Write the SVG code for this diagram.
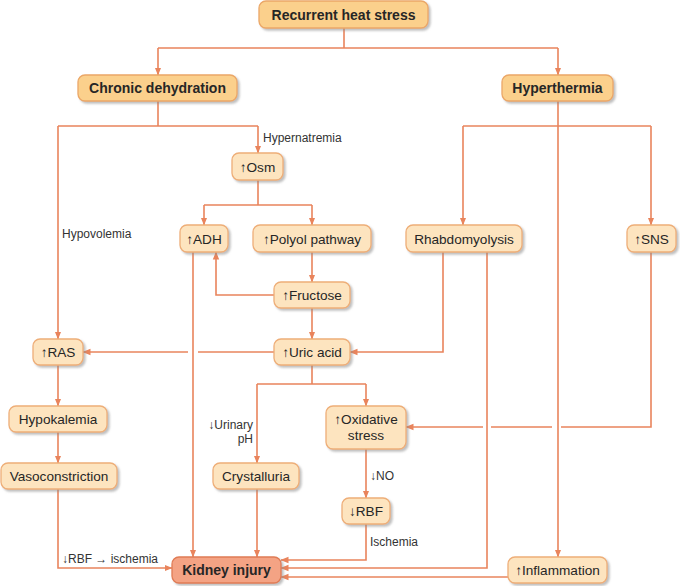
<svg xmlns="http://www.w3.org/2000/svg" width="680" height="586" viewBox="0 0 680 586">
<defs>
<filter id="sh" x="-10%" y="-20%" width="130%" height="160%">
<feDropShadow dx="2" dy="2" stdDeviation="1.2" flood-color="#8a8a8a" flood-opacity="0.55"/>
</filter>
<marker id="ah" markerUnits="userSpaceOnUse" markerWidth="8" markerHeight="8" viewBox="0 0 8 8" refX="7.5" refY="4" orient="auto">
<path d="M0,0.8 L8,4 L0,7.2 Z" fill="#e9845c"/>
</marker>
</defs>
<style>
.n rect{fill:#fde4bf;stroke:#eeae78;stroke-width:1.3;filter:url(#sh)}
.b rect{fill:#fbd08c;stroke:#eba767}
.k rect{fill:#f4a384;stroke:#e07c55}
text{font-family:"Liberation Sans",Arial,sans-serif;fill:#262626}
.n text{font-size:13.6px;text-anchor:middle}
.b text,.k text{font-size:14px;font-weight:bold}
.lb{font-size:12px;fill:#333}
.c path{fill:none;stroke:#e9845c;stroke-width:1.6}
.c path.a{marker-end:url(#ah)}
</style>
<g class="c" id="connectors">
<path d="M344 28V48M158 48H558"/>
<path class="a" d="M158 48V75"/>
<path class="a" d="M558 48V75"/>
<path d="M158 101V126M58 126H258"/>
<path class="a" d="M58 126V339"/>
<path class="a" d="M258 126V153"/>
<path d="M258 180V205M204 205H312"/>
<path class="a" d="M204 205V225"/>
<path class="a" d="M312 205V225"/>
<path class="a" d="M312 252V282"/>
<path class="a" d="M274 295H216V252"/>
<path class="a" d="M193 252V557"/>
<path class="a" d="M312 308V339"/>
<path d="M274 352H198"/>
<path class="a" d="M188 352H83"/>
<path class="a" d="M58 365V406"/>
<path class="a" d="M58 432V463"/>
<path class="a" d="M443 252V352H350"/>
<path class="a" d="M487 252V568H281"/>
<path class="a" d="M558 101V557"/>
<path d="M463 126H651"/>
<path class="a" d="M463 126V225"/>
<path class="a" d="M651 126V225"/>
<path d="M651 252V427H561M552 427H491"/>
<path class="a" d="M483 427H406"/>
<path d="M312 365V384M257 384H366"/>
<path class="a" d="M257 384V463"/>
<path class="a" d="M366 384V406"/>
<path class="a" d="M366 449V498"/>
<path class="a" d="M366 524V560H281"/>
<path class="a" d="M508 577H281"/>
<path class="a" d="M257 489V557"/>
<path class="a" d="M58 489V568H172"/>
</g>
<g id="labels">
<text class="lb" x="263" y="142">Hypernatremia</text>
<text class="lb" x="62" y="238">Hypovolemia</text>
<text class="lb" x="253" y="429" text-anchor="end">↓Urinary</text>
<text class="lb" x="253" y="443" text-anchor="end">pH</text>
<text class="lb" x="370" y="480">↓NO</text>
<text class="lb" x="370" y="546">Ischemia</text>
<text class="lb" x="62" y="563">↓RBF → ischemia</text>
</g>
<g id="recurrent-heat-stress" class="n b"><rect x="259" y="1" width="169" height="27" rx="7"/><text x="343.5" y="19.5">Recurrent heat stress</text></g>
<g id="chronic-dehydration" class="n b"><rect x="78" y="75" width="159" height="26" rx="7"/><text x="157.5" y="93">Chronic dehydration</text></g>
<g id="hyperthermia" class="n b"><rect x="502" y="75" width="111" height="26" rx="7"/><text x="557.5" y="93">Hyperthermia</text></g>
<g id="osm" class="n"><rect x="232" y="153" width="51" height="27" rx="7"/><text x="257.5" y="171.5">↑Osm</text></g>
<g id="adh" class="n"><rect x="180" y="225" width="48" height="27" rx="7"/><text x="204" y="243.5">↑ADH</text></g>
<g id="polyol" class="n"><rect x="253" y="225" width="118" height="27" rx="7"/><text x="312" y="243.5">↑Polyol pathway</text></g>
<g id="fructose" class="n"><rect x="274" y="282" width="76" height="26" rx="7"/><text x="312" y="300">↑Fructose</text></g>
<g id="uric-acid" class="n"><rect x="274" y="339" width="76" height="26" rx="7"/><text x="312" y="357">↑Uric acid</text></g>
<g id="ras" class="n"><rect x="33" y="339" width="50" height="26" rx="7"/><text x="58" y="357">↑RAS</text></g>
<g id="hypokalemia" class="n"><rect x="9" y="406" width="98" height="26" rx="7"/><text x="58" y="424">Hypokalemia</text></g>
<g id="vasoconstriction" class="n"><rect x="1" y="463" width="116" height="26" rx="7"/><text x="59" y="481">Vasoconstriction</text></g>
<g id="crystalluria" class="n"><rect x="213" y="463" width="86" height="26" rx="7"/><text x="256" y="481">Crystalluria</text></g>
<g id="oxidative-stress" class="n"><rect x="326" y="406" width="80" height="43" rx="7"/><text x="366" y="424">↑Oxidative</text><text x="366" y="440">stress</text></g>
<g id="rbf" class="n"><rect x="342" y="498" width="48" height="26" rx="7"/><text x="366" y="516">↓RBF</text></g>
<g id="kidney-injury" class="n k"><rect x="172" y="557" width="109" height="26" rx="7"/><text x="226.5" y="575">Kidney injury</text></g>
<g id="inflammation" class="n"><rect x="508" y="557" width="99" height="26" rx="7"/><text x="557.5" y="575">↑Inflammation</text></g>
<g id="rhabdomyolysis" class="n"><rect x="406" y="225" width="116" height="27" rx="7"/><text x="464" y="243.5">Rhabdomyolysis</text></g>
<g id="sns" class="n"><rect x="627" y="225" width="49" height="27" rx="7"/><text x="651.5" y="243.5">↑SNS</text></g>
</svg>
